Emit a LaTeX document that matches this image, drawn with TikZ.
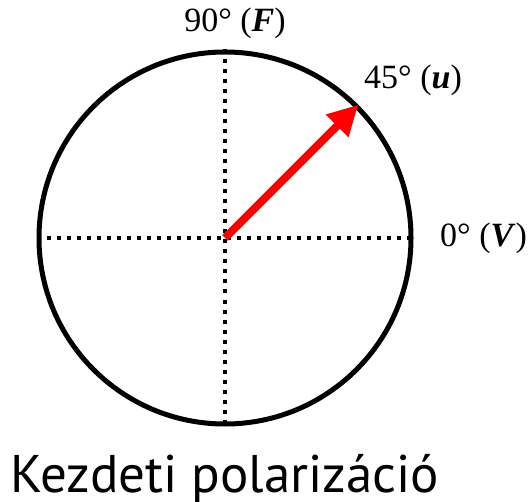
\documentclass[tikz,border=0pt]{standalone}
\usepackage{fontspec}
\setmainfont{Liberation Serif}
\newfontfamily\captionfont{PT Sans}
\usetikzlibrary{arrows.meta}

\begin{document}
\begin{tikzpicture}[x=1pt, y=-1pt,
  every node/.style={inner sep=0pt, font=\fontsize{34}{40}\selectfont},
  rim/.style={draw, line width=5pt},
  axis/.style={line width=4pt, dash pattern=on 4pt off 6pt},
  vec/.style={draw=red, line width=8pt, -{Triangle[length=30pt, width=30pt]}}]
  \useasboundingbox (0,0) rectangle (532,502);
  % polarization circle
  \coordinate (o) at (225,238);
  \node[rim, circle, minimum size=372pt] (rim) at (o) {};
  \draw[axis] (rim.west) -- (rim.east);
  \draw[axis] (rim.north) -- (rim.south);
  \draw[vec] (o) -- (rim.45);
  % angle labels
  \node (lf) at (235,23) {90\textdegree{} (\textbf{\textit{F}})};
  \node[anchor=west] (lu) at (364,80) {45\textdegree{} (\textbf{\textit{u}})};
  \node[anchor=west] (lv) at (440,238) {0\textdegree{} (\textbf{\textit{V}})};
  % caption
  \node[anchor=base west, font=\captionfont\fontsize{53}{60}\selectfont] (cap) at (10,492) {Kezdeti polarizáció};
\end{tikzpicture}
\end{document}
